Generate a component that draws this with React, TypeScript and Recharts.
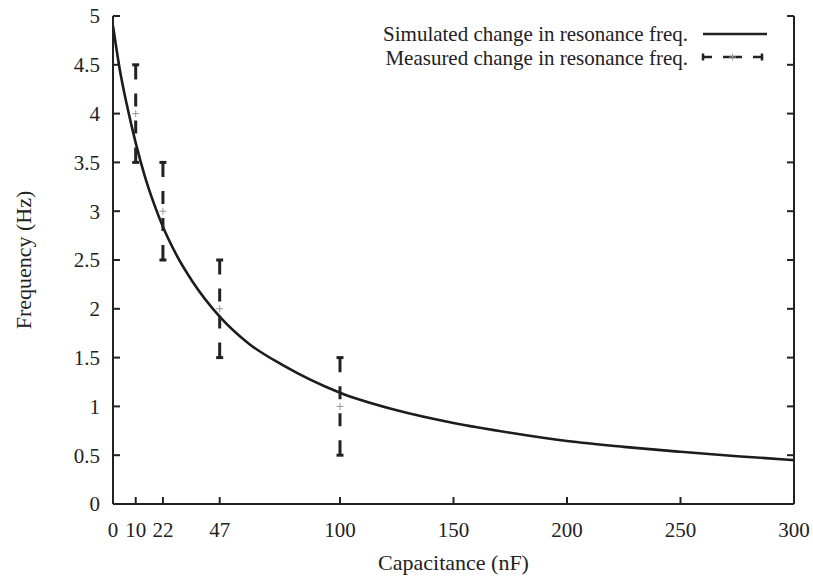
import {
  ComposedChart,
  Line,
  Scatter,
  ErrorBar,
  XAxis,
  YAxis,
  Legend,
} from "recharts";

// simulated curve
const capacitance = [0, 3, 6, 10, 14, 18, 22, 28, 35, 47, 60, 75, 100, 125, 150, 175, 200, 225, 250, 275, 300];
const simulatedFreq = [4.9, 4.45, 4.1, 3.7, 3.36, 3.08, 2.84, 2.55, 2.28, 1.92, 1.64, 1.42, 1.14, 0.96, 0.83, 0.73, 0.645, 0.585, 0.535, 0.49, 0.45];

// measured points with error bars
const measuredCap = [10, 22, 47, 100];
const measuredFreq = [4, 3, 2, 1];
const measuredErr = [0.5, 0.5, 0.5, 0.5];

const xTicks = [0, 10, 22, 47, 100, 150, 200, 250, 300];
const yTicks = [0, 0.5, 1, 1.5, 2, 2.5, 3, 3.5, 4, 4.5, 5];

const simData = capacitance.map((c, i) => ({ cap: c, freq: simulatedFreq[i] }));
const measData = measuredCap.map((c, i) => ({ cap: c, freq: measuredFreq[i], err: measuredErr[i] }));

const FONT = "'Liberation Serif', 'DejaVu Serif', serif";
const INK = "#222";
const TICK = 7;

const BottomTick = ({ x, y, payload }: any) => (
  <g>
    <line x1={x} x2={x} y1={y} y2={y - TICK} stroke={INK} strokeWidth={2} />
    <text x={x} y={y + 33} textAnchor="middle" fontFamily={FONT} fontSize={21} fill={INK}>
      {payload.value}
    </text>
  </g>
);

const TopTick = ({ x, y }: any) => (
  <line x1={x} x2={x} y1={y} y2={y + TICK} stroke={INK} strokeWidth={2} />
);

const LeftTick = ({ x, y, payload }: any) => (
  <g>
    <line x1={x} x2={x + TICK} y1={y} y2={y} stroke={INK} strokeWidth={2} />
    <text x={x - 13} y={y} dy="0.35em" textAnchor="end" fontFamily={FONT} fontSize={21} fill={INK}>
      {payload.value}
    </text>
  </g>
);

const RightTick = ({ x, y }: any) => (
  <line x1={x} x2={x - TICK} y1={y} y2={y} stroke={INK} strokeWidth={2} />
);

const PlusMarker = ({ cx, cy }: any) => (
  <g stroke="#999" strokeWidth={1}>
    <line x1={cx - 3.5} x2={cx + 3.5} y1={cy} y2={cy} />
    <line x1={cx} x2={cx} y1={cy - 3.5} y2={cy + 3.5} />
  </g>
);

const rowStyle = { display: "flex", alignItems: "center", justifyContent: "flex-end", height: 24 };

const renderLegend = () => (
  <div style={{ fontFamily: FONT, fontSize: 21, color: INK, lineHeight: "24px" }}>
    <div style={rowStyle}>
      <span>Simulated change in resonance freq.</span>
      <svg width={82} height={24}>
        <line x1={15} x2={79} y1={12} y2={12} stroke={INK} strokeWidth={2.5} />
      </svg>
    </div>
    <div style={rowStyle}>
      <span>Measured change in resonance freq.</span>
      <svg width={82} height={24}>
        <line x1={15} x2={74} y1={11} y2={11} stroke={INK} strokeWidth={2.5} strokeDasharray="9 11 19 11 9" />
        <line x1={15} x2={15} y1={7.5} y2={14.5} stroke={INK} strokeWidth={2.5} />
        <line x1={74} x2={74} y1={7.5} y2={14.5} stroke={INK} strokeWidth={2.5} />
        <line x1={41} x2={48} y1={11} y2={11} stroke="#999" strokeWidth={1} />
        <line x1={44.5} x2={44.5} y1={7.5} y2={14.5} stroke="#999" strokeWidth={1} />
      </svg>
    </div>
  </div>
);

export default function App() {
  return (
    <div style={{ position: "absolute", left: 0, top: 0, background: "#fff" }}>
      <ComposedChart width={813} height={580} margin={{ top: 16, right: 18, bottom: 0, left: 0 }}>
        <XAxis
          dataKey="cap"
          type="number"
          domain={[0, 300]}
          ticks={xTicks}
          allowDataOverflow
          height={76}
          tickSize={0}
          tickMargin={0}
          tick={BottomTick}
          axisLine={{ stroke: INK, strokeWidth: 2 }}
          label={({ viewBox }: any) => (
            <text
              x={viewBox.x + viewBox.width / 2}
              y={viewBox.y + 66}
              textAnchor="middle"
              fontFamily={FONT}
              fontSize={22}
              fill={INK}
            >
              Capacitance (nF)
            </text>
          )}
        />
        <XAxis
          xAxisId="top"
          orientation="top"
          dataKey="cap"
          type="number"
          domain={[0, 300]}
          ticks={xTicks}
          allowDataOverflow
          height={0}
          tickSize={0}
          tickMargin={0}
          tick={TopTick}
          axisLine={{ stroke: INK, strokeWidth: 2 }}
        />
        <YAxis
          type="number"
          domain={[0, 5]}
          ticks={yTicks}
          allowDataOverflow
          width={113}
          tickSize={0}
          tickMargin={0}
          tick={LeftTick}
          axisLine={{ stroke: INK, strokeWidth: 2 }}
          label={({ viewBox }: any) => {
            const cx = 23;
            const cy = viewBox.y + viewBox.height / 2;
            return (
              <text
                x={cx}
                y={cy}
                transform={`rotate(-90 ${cx} ${cy})`}
                textAnchor="middle"
                dominantBaseline="central"
                fontFamily={FONT}
                fontSize={22}
                fill={INK}
              >
                Frequency (Hz)
              </text>
            );
          }}
        />
        <YAxis
          yAxisId="right"
          orientation="right"
          type="number"
          domain={[0, 5]}
          ticks={yTicks}
          allowDataOverflow
          width={1}
          tickSize={0}
          tickMargin={0}
          tick={RightTick}
          axisLine={{ stroke: INK, strokeWidth: 2 }}
        />
        <Legend
          layout="horizontal"
          verticalAlign="middle"
          align="center"
          content={renderLegend}
          wrapperStyle={{ top: 22, right: 43, left: "auto", width: "auto", height: "auto" }}
        />
        <Line
          data={simData}
          dataKey="freq"
          type="monotone"
          dot={false}
          activeDot={false}
          stroke="#1c1c1c"
          strokeWidth={2.6}
          isAnimationActive={false}
          legendType="none"
        />
        <Scatter
          data={measData}
          dataKey="freq"
          shape={PlusMarker}
          isAnimationActive={false}
          legendType="none"
        >
          <ErrorBar
            dataKey="err"
            direction="y"
            width={3.5}
            stroke={INK}
            strokeWidth={3}
            strokeDasharray="15 14 13 14 13 14 15"
            isAnimationActive={false}
          />
        </Scatter>
      </ComposedChart>
    </div>
  );
}
